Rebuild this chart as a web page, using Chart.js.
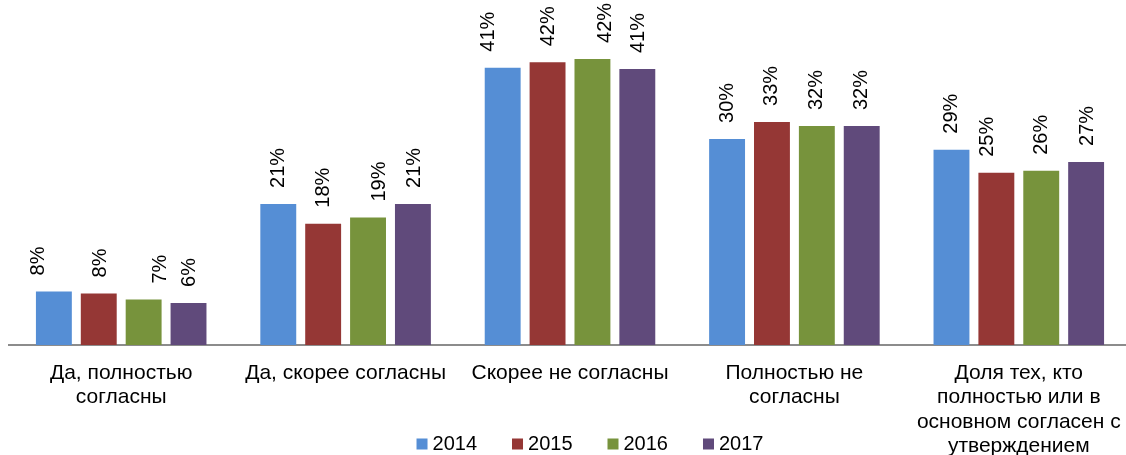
<!DOCTYPE html>
<html lang="ru">
<head>
    <meta charset="UTF-8">
    <title>Согласие с утверждением, 2014–2017</title>
    <script src="https://cdn.jsdelivr.net/npm/chart.js@4/dist/chart.umd.min.js"></script>
    <style>
        html, body { margin: 0; padding: 0; background: #fff; overflow: hidden; }
        .wrap { position: relative; width: 1131px; height: 455px; }
    </style>
</head>
<body>
    <div class="wrap">
        <canvas id="chart"></canvas>
    </div>

    <script>
        // Data (percent)
        const categories = [
            ['Да, полностью', 'согласны'],
            'Да, скорее согласны',
            'Скорее не согласны',
            ['Полностью не', 'согласны'],
            ['Доля тех, кто', 'полностью или в', 'основном согласен с', 'утверждением']
        ];
        const years = ['2014', '2015', '2016', '2017'];
        const values2014 = [7.9, 20.8, 40.9, 30.4, 28.8];
        const values2015 = [7.6, 17.9, 41.7, 32.9, 25.4];
        const values2016 = [6.7, 18.8, 42.2, 32.3, 25.7];
        const values2017 = [6.2, 20.8, 40.7, 32.3, 27.0];

        const colors = ['#558ED5', '#953735', '#77933C', '#604A7B'];
        // sideways shift of some value labels, as placed in the original
        const labelNudge = [
            [-15, 0, -14, 0, 0],
            [2, 0, 1, 0, -9],
            [17, 11, 13, 0, 0],
            [1, 2, 1, 0, 1]
        ];

        const FONT = "'Liberation Sans', Arial, sans-serif";

        // rotated value labels above the bars
        const valueLabels = {
            id: 'valueLabels',
            afterDatasetsDraw(chart) {
                const ctx = chart.ctx;
                ctx.save();
                ctx.font = '20px ' + FONT;
                ctx.fillStyle = '#000';
                ctx.textAlign = 'left';
                ctx.textBaseline = 'middle';
                chart.data.datasets.forEach((ds, di) => {
                    const meta = chart.getDatasetMeta(di);
                    meta.data.forEach((bar, i) => {
                        ctx.save();
                        ctx.translate(bar.x + labelNudge[di][i], bar.y - 16);
                        ctx.rotate(-Math.PI / 2);
                        ctx.fillText(Math.round(ds.data[i]) + '%', 0, 0);
                        ctx.restore();
                    });
                });
                ctx.restore();
            }
        };

        // legend drawn inside the label area, like the original
        const bottomLegend = {
            id: 'bottomLegend',
            afterDraw(chart) {
                const ctx = chart.ctx;
                ctx.save();
                ctx.font = '20px ' + FONT;
                ctx.textBaseline = 'middle';
                ctx.textAlign = 'left';
                const box = 11, gap = 5, spacing = 35;
                const items = chart.data.datasets.map(ds => ({
                    text: ds.label, color: ds.backgroundColor,
                    w: box + gap + ctx.measureText(ds.label).width
                }));
                const total = items.reduce((s, it) => s + it.w, 0) + spacing * (items.length - 1);
                let x = 590 - total / 2;
                const y = 444;
                items.forEach(it => {
                    ctx.fillStyle = it.color;
                    ctx.fillRect(x, y - box / 2, box, box);
                    ctx.fillStyle = '#000';
                    ctx.fillText(it.text, x + box + gap, y);
                    x += it.w + spacing;
                });
                ctx.restore();
            }
        };

        const seriesValues = [values2014, values2015, values2016, values2017];

        new Chart(document.getElementById('chart'), {
            type: 'bar',
            data: {
                labels: categories,
                datasets: years.map((y, i) => ({
                    label: y,
                    data: seriesValues[i],
                    backgroundColor: colors[i],
                    borderWidth: 0,
                    categoryPercentage: 0.8,
                    barPercentage: 0.8
                }))
            },
            options: {
                responsive: true,
                maintainAspectRatio: false,
                animation: false,
                layout: { padding: { left: 9, right: 0, top: 6, bottom: 0 } },
                plugins: {
                    legend: { display: false },
                    tooltip: { enabled: false }
                },
                scales: {
                    x: {
                        grid: { display: false, drawTicks: false },
                        border: { display: true, color: '#8c8c8c', width: 2 },
                        ticks: {
                            color: '#000',
                            font: { family: FONT, size: 21, lineHeight: 1.16 },
                            padding: 16,
                            maxRotation: 0,
                            autoSkip: false
                        },
                        afterFit(scale) {
                            scale.height = 110;
                            scale.paddingLeft = 0;
                            scale.paddingRight = 0;
                        }
                    },
                    y: {
                        display: false,
                        min: 0,
                        max: 50
                    }
                }
            },
            plugins: [valueLabels, bottomLegend]
        });
    </script>
</body>
</html>
